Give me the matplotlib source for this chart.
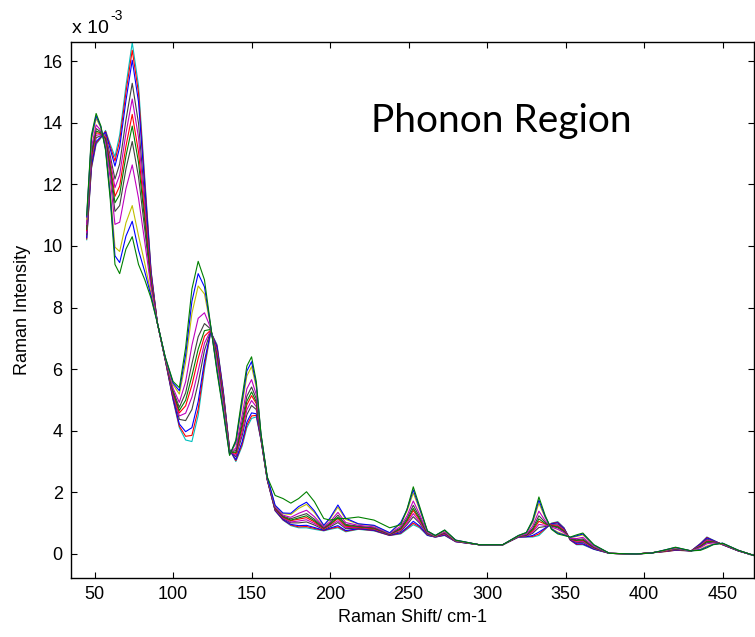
import numpy as np
import matplotlib
matplotlib.use("Agg")
import matplotlib.pyplot as plt

# each row: Raman shift (cm-1), then intensity (x1e-3) of the 12 spectra
band_lattice = [
    [45, 10.2, 10.23, 10.27, 10.37, 10.43, 10.5, 10.54, 10.61, 10.7, 10.87, 10.94, 11.0],
    [48, 12.5, 12.54, 12.6, 12.73, 12.82, 12.91, 12.97, 13.06, 13.19, 13.42, 13.51, 13.6],
    [51, 13.3, 13.34, 13.39, 13.51, 13.59, 13.67, 13.73, 13.81, 13.93, 14.14, 14.22, 14.3],
    [54, 13.5, 13.52, 13.54, 13.58, 13.62, 13.65, 13.67, 13.7, 13.75, 13.84, 13.87, 13.9],
    [57, 13.75, 13.72, 13.69, 13.61, 13.56, 13.51, 13.47, 13.42, 13.34, 13.2, 13.15, 13.1],
    [60, 13.3, 13.23, 13.14, 12.92, 12.78, 12.63, 12.53, 12.38, 12.17, 11.79, 11.64, 11.5],
    [63, 12.9, 12.76, 12.59, 12.17, 11.89, 11.61, 11.4, 11.12, 10.7, 9.96, 9.68, 9.4],
    [66, 13.6, 13.42, 13.2, 12.66, 12.3, 11.94, 11.67, 11.31, 10.77, 9.82, 9.46, 9.1],
    [70, 15.2, 14.99, 14.72, 14.09, 13.66, 13.24, 12.92, 12.5, 11.86, 10.75, 10.32, 9.9],
    [74, 16.6, 16.35, 16.03, 15.28, 14.77, 14.27, 13.89, 13.39, 12.63, 11.31, 10.8, 10.3],
    [78, 15.2, 14.97, 14.68, 13.98, 13.52, 13.05, 12.71, 12.24, 11.55, 10.33, 9.86, 9.4],
    [82, 12.2, 12.07, 11.9, 11.51, 11.24, 10.98, 10.78, 10.52, 10.12, 9.43, 9.16, 8.9],
    [86, 9.2, 9.16, 9.12, 9.01, 8.94, 8.87, 8.81, 8.74, 8.63, 8.44, 8.37, 8.3],
    [90, 7.5, 7.5, 7.5, 7.5, 7.5, 7.5, 7.5, 7.5, 7.5, 7.5, 7.5, 7.5],
]

band_mid = [
    [95, 6.3, 6.3, 6.31, 6.32, 6.33, 6.34, 6.34, 6.35, 6.36, 6.38, 6.39, 6.4],
    [100, 5.0, 5.02, 5.05, 5.13, 5.17, 5.22, 5.26, 5.31, 5.38, 5.5, 5.55, 5.6],
    [104, 4.1, 4.15, 4.22, 4.37, 4.48, 4.58, 4.66, 4.76, 4.92, 5.19, 5.3, 5.4],
    [108, 3.7, 3.82, 3.97, 4.33, 4.57, 4.81, 4.99, 5.23, 5.59, 6.22, 6.46, 6.7],
    [112, 3.65, 3.85, 4.1, 4.69, 5.09, 5.48, 5.78, 6.17, 6.77, 7.81, 8.2, 8.6],
    [116, 4.5, 4.7, 4.95, 5.55, 5.95, 6.35, 6.65, 7.05, 7.65, 8.7, 9.1, 9.5],
    [120, 6.0, 6.12, 6.26, 6.61, 6.84, 7.07, 7.25, 7.48, 7.83, 8.44, 8.67, 8.9],
    [124, 7.2, 7.21, 7.22, 7.24, 7.26, 7.27, 7.29, 7.3, 7.33, 7.37, 7.38, 7.4],
    [128, 6.8, 6.76, 6.72, 6.61, 6.54, 6.47, 6.41, 6.34, 6.23, 6.04, 5.97, 5.9],
    [132, 5.3, 5.27, 5.24, 5.15, 5.1, 5.04, 5.0, 4.94, 4.86, 4.71, 4.66, 4.6],
    [136, 3.4, 3.39, 3.38, 3.36, 3.34, 3.33, 3.31, 3.3, 3.27, 3.23, 3.22, 3.2],
    [140, 3.0, 3.03, 3.06, 3.15, 3.2, 3.26, 3.3, 3.36, 3.44, 3.59, 3.64, 3.7],
    [144, 3.5, 3.56, 3.64, 3.84, 3.96, 4.09, 4.19, 4.32, 4.51, 4.84, 4.97, 5.1],
    [147, 4.1, 4.18, 4.28, 4.52, 4.68, 4.84, 4.96, 5.12, 5.36, 5.78, 5.94, 6.1],
    [150, 4.4, 4.48, 4.58, 4.82, 4.98, 5.14, 5.26, 5.42, 5.66, 6.08, 6.24, 6.4],
    [153, 4.45, 4.5, 4.55, 4.69, 4.78, 4.88, 4.94, 5.04, 5.17, 5.42, 5.51, 5.6],
    [156, 3.7, 3.71, 3.72, 3.74, 3.76, 3.77, 3.79, 3.8, 3.83, 3.87, 3.88, 3.9],
    [160, 2.4, 2.4, 2.41, 2.42, 2.43, 2.44, 2.44, 2.45, 2.46, 2.48, 2.49, 2.5],
]

band_low = [
    [165, 1.4, 1.41, 1.42, 1.44, 1.46, 1.47, 1.49, 1.5, 1.53, 1.57, 1.58, 1.9],
    [170, 1.1, 1.11, 1.12, 1.15, 1.17, 1.19, 1.21, 1.23, 1.26, 1.31, 1.33, 1.8],
    [175, 0.92, 0.94, 0.96, 1.01, 1.04, 1.08, 1.1, 1.14, 1.19, 1.28, 1.32, 1.65],
    [180, 0.85, 0.88, 0.92, 1.01, 1.07, 1.13, 1.17, 1.23, 1.32, 1.48, 1.54, 1.8],
    [185, 0.85, 0.89, 0.93, 1.04, 1.11, 1.18, 1.24, 1.31, 1.42, 1.61, 1.68, 2.02],
    [190, 0.8, 0.83, 0.86, 0.94, 0.99, 1.04, 1.08, 1.13, 1.21, 1.35, 1.4, 1.7],
    [196, 0.75, 0.76, 0.77, 0.79, 0.81, 0.82, 0.84, 0.85, 0.88, 0.92, 0.93, 1.15],
    [200, 0.8, 0.82, 0.84, 0.88, 0.92, 0.95, 0.97, 1.0, 1.05, 1.14, 1.17, 1.1],
    [205, 0.85, 0.88, 0.92, 1.02, 1.08, 1.15, 1.19, 1.26, 1.35, 1.52, 1.59, 1.15],
    [210, 0.72, 0.74, 0.76, 0.82, 0.86, 0.9, 0.93, 0.96, 1.02, 1.12, 1.16, 1.15],
    [218, 0.8, 0.81, 0.82, 0.84, 0.86, 0.87, 0.89, 0.9, 0.93, 0.97, 0.98, 1.2],
    [228, 0.75, 0.76, 0.77, 0.79, 0.81, 0.82, 0.84, 0.85, 0.88, 0.92, 0.93, 1.1],
    [238, 0.6, 0.6, 0.61, 0.62, 0.63, 0.64, 0.64, 0.65, 0.66, 0.68, 0.69, 0.85],
    [245, 0.65, 0.67, 0.69, 0.73, 0.77, 0.8, 0.82, 0.85, 0.9, 0.99, 1.02, 0.95],
    [249, 0.8, 0.83, 0.86, 0.95, 1.0, 1.06, 1.1, 1.16, 1.24, 1.39, 1.44, 1.45],
    [253, 0.95, 1.0, 1.06, 1.21, 1.31, 1.41, 1.48, 1.58, 1.72, 1.98, 2.08, 2.18],
    [257, 0.85, 0.88, 0.91, 1.0, 1.05, 1.11, 1.15, 1.21, 1.29, 1.44, 1.49, 1.55],
    [262, 0.6, 0.61, 0.61, 0.63, 0.64, 0.66, 0.66, 0.68, 0.69, 0.73, 0.74, 0.75],
    [267, 0.55, 0.55, 0.55, 0.56, 0.56, 0.57, 0.57, 0.58, 0.58, 0.59, 0.6, 0.6],
    [273, 0.6, 0.61, 0.62, 0.64, 0.65, 0.67, 0.68, 0.69, 0.71, 0.75, 0.77, 0.78],
    [280, 0.4, 0.4, 0.4, 0.41, 0.41, 0.42, 0.42, 0.43, 0.43, 0.44, 0.45, 0.45],
]

band_tail = [
    [295, 0.3, 0.3, 0.3, 0.3, 0.3, 0.3, 0.3, 0.3, 0.3, 0.3, 0.3, 0.3],
    [310, 0.3, 0.3, 0.3, 0.3, 0.3, 0.3, 0.3, 0.3, 0.3, 0.3, 0.3, 0.3],
    [320, 0.55, 0.55, 0.55, 0.56, 0.56, 0.57, 0.57, 0.58, 0.58, 0.59, 0.6, 0.6],
    [325, 0.55, 0.56, 0.56, 0.58, 0.59, 0.61, 0.61, 0.63, 0.64, 0.68, 0.69, 0.7],
    [329, 0.55, 0.57, 0.6, 0.67, 0.71, 0.75, 0.79, 0.83, 0.9, 1.01, 1.06, 1.1],
    [333, 0.6, 0.65, 0.71, 0.86, 0.96, 1.06, 1.14, 1.24, 1.39, 1.65, 1.75, 1.85],
    [337, 0.8, 0.82, 0.84, 0.89, 0.93, 0.97, 0.99, 1.03, 1.08, 1.18, 1.21, 1.25],
    [341, 1.0, 0.99, 0.98, 0.96, 0.94, 0.93, 0.91, 0.9, 0.87, 0.83, 0.82, 0.8],
    [345, 1.05, 1.03, 1.01, 0.97, 0.93, 0.9, 0.88, 0.85, 0.8, 0.71, 0.68, 0.65],
    [349, 0.85, 0.84, 0.83, 0.8, 0.78, 0.76, 0.74, 0.72, 0.69, 0.64, 0.62, 0.6],
    [353, 0.45, 0.45, 0.46, 0.47, 0.48, 0.49, 0.49, 0.5, 0.51, 0.53, 0.54, 0.55],
    [357, 0.3, 0.31, 0.33, 0.37, 0.39, 0.42, 0.44, 0.46, 0.5, 0.57, 0.59, 0.62],
    [361, 0.3, 0.32, 0.33, 0.38, 0.41, 0.44, 0.46, 0.49, 0.54, 0.62, 0.65, 0.68],
    [368, 0.15, 0.16, 0.16, 0.18, 0.19, 0.21, 0.21, 0.23, 0.24, 0.28, 0.29, 0.3],
    [378, 0.02, 0.02, 0.02, 0.02, 0.02, 0.02, 0.02, 0.02, 0.02, 0.02, 0.02, 0.02],
    [395, 0.0, 0.0, 0.0, 0.0, 0.0, 0.0, 0.0, 0.0, 0.0, 0.0, 0.0, 0.0],
    [405, 0.04, 0.04, 0.04, 0.04, 0.04, 0.04, 0.04, 0.04, 0.03, 0.03, 0.03, 0.03],
    [414, 0.08, 0.08, 0.09, 0.09, 0.1, 0.1, 0.11, 0.11, 0.12, 0.13, 0.14, 0.14],
    [420, 0.12, 0.12, 0.13, 0.14, 0.15, 0.16, 0.16, 0.17, 0.18, 0.2, 0.21, 0.22],
    [430, 0.1, 0.1, 0.1, 0.1, 0.1, 0.1, 0.1, 0.1, 0.1, 0.1, 0.1, 0.1],
    [436, 0.35, 0.34, 0.33, 0.3, 0.28, 0.26, 0.25, 0.23, 0.21, 0.16, 0.14, 0.12],
    [440, 0.55, 0.54, 0.52, 0.48, 0.45, 0.42, 0.4, 0.37, 0.33, 0.26, 0.23, 0.2],
    [444, 0.45, 0.44, 0.44, 0.42, 0.41, 0.39, 0.39, 0.37, 0.36, 0.32, 0.31, 0.3],
    [450, 0.3, 0.3, 0.3, 0.31, 0.31, 0.32, 0.32, 0.33, 0.33, 0.34, 0.35, 0.35],
    [460, 0.1, 0.1, 0.1, 0.1, 0.11, 0.11, 0.11, 0.11, 0.11, 0.12, 0.12, 0.12],
    [470, -0.05, -0.05, -0.05, -0.05, -0.05, -0.05, -0.05, -0.05, -0.05, -0.05, -0.05, -0.05],
]

x_ticks = [50, 100, 150, 200, 250, 300, 350, 400, 450]
y_ticks = [0, 2, 4, 6, 8, 10, 12, 14, 16]

# old MATLAB colour order
mb, mg, mr = (0, 0, 1), (0, 0.5, 0), (1, 0, 0)
mc, mm, my, mk = (0, 0.75, 0.75), (0.75, 0, 0.75), (0.75, 0.75, 0), (0.25, 0.25, 0.25)
line_colors = [mc, mr, mb, mk, mm, mr, mg, mk, mm, my, mb, mg]

rows = np.array(band_lattice + band_mid + band_low + band_tail)
shift = rows[:, 0]
spectra = rows[:, 1:].T

plt.rcParams['font.family'] = ['Liberation Sans', 'DejaVu Sans']

fig = plt.figure(figsize=(7.55, 6.37), dpi=100)
ax = fig.add_axes([71 / 755, 1 - 578 / 637, 683 / 755, 536 / 637])

for spec, col in zip(spectra, line_colors):
    ax.plot(shift, spec, color=col, lw=0.8)

ax.set_xlim(35, 470)
ax.set_ylim(-0.78, 16.62)
ax.set_xticks(x_ticks)
ax.set_yticks(y_ticks)
ax.tick_params(direction='in', top=True, right=True, length=4, width=0.8,
               labelsize=13, pad=6)
for sp in ax.spines.values():
    sp.set_linewidth(1.0)

ax.set_xlabel('Raman Shift/ cm-1', fontsize=13, labelpad=4)
ax.set_ylabel('Raman Intensity', fontsize=13, labelpad=8)

# MATLAB style exponent label
fig.text(72 / 755, 1 - 33 / 637, 'x 10', fontsize=14, va='baseline')
fig.text(110 / 755, 1 - 20 / 637, '-3', fontsize=10, va='baseline')
ax.text(0.6296, 0.832, 'Phonon Region', transform=ax.transAxes, fontsize=28,
        family='Lato', ha='center', va='baseline')

fig.savefig('out.png', dpi=100)
